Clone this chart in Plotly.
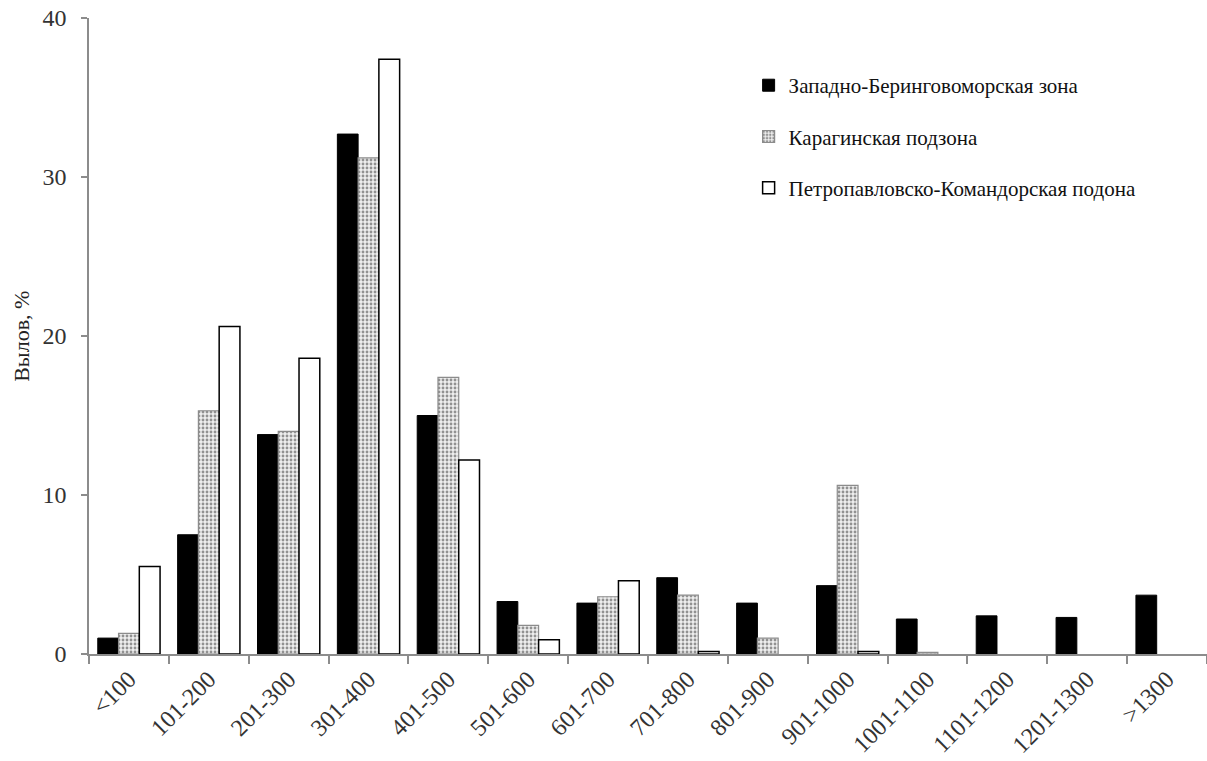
import plotly.graph_objects as go

categories = ["<100", "101-200", "201-300", "301-400", "401-500", "501-600", "601-700",
              "701-800", "801-900", "901-1000", "1001-1100", "1101-1200", "1201-1300", ">1300"]
west_bering = [1.0, 7.5, 13.8, 32.7, 15.0, 3.3, 3.2, 4.8, 3.2, 4.3, 2.2, 2.4, 2.3, 3.7]
karaginsk = [1.3, 15.3, 14.0, 31.2, 17.4, 1.8, 3.6, 3.7, 1.0, 10.6, 0.1, None, None, None]
petropavl = [5.5, 20.6, 18.6, 37.4, 12.2, 0.9, 4.6, 0.15, None, 0.15, None, None, None, None]
names = ["Западно-Беринговоморская зона", "Карагинская подзона", "Петропавловско-Командорская подона"]
y_ticks = [0, 10, 20, 30, 40]

FONT = "Liberation Serif, Times New Roman, serif"

fig = go.Figure()
fig.add_trace(go.Bar(x=categories, y=west_bering, name=names[0], legendgroup="a",
                     marker=dict(color="black", line=dict(color="black", width=1))))
fig.add_trace(go.Bar(x=categories, y=karaginsk, name=names[1], legendgroup="b",
                     marker=dict(color="#e6e6e6", line=dict(color="#8c8c8c", width=1.2),
                                 pattern=dict(shape=".", size=4, solidity=0.4,
                                              fgcolor="#333333", bgcolor="#eeeeee"))))
fig.add_trace(go.Bar(x=categories, y=petropavl, name=names[2], legendgroup="c",
                     marker=dict(color="white", line=dict(color="black", width=1.5))))

fig.update_layout(
    width=1207, height=761,
    margin=dict(l=89, r=0, t=18, b=107, autoexpand=False),
    paper_bgcolor="white", plot_bgcolor="white",
    barmode="group", bargap=0.22, bargroupgap=0,
    font=dict(family=FONT, size=20, color="#222"),
    legend=dict(x=0.59, y=0.926, xanchor="left", yanchor="top",
                font=dict(family=FONT, size=21, color="#111"),
                tracegroupgap=21, bgcolor="rgba(0,0,0,0)", itemwidth=30),
    showlegend=True,
    annotations=[dict(text="Вылов, %", textangle=-90, xref="paper", yref="paper",
                      x=-0.061, y=0.5, xanchor="center", yanchor="middle", showarrow=False,
                      font=dict(family=FONT, size=22, color="#222"))],
)
fig.update_xaxes(type="category", showline=True, linecolor="#8c8c8c", linewidth=1.5,
                 ticks="outside", tickson="boundaries", ticklen=8, tickcolor="#8c8c8c",
                 tickwidth=1.5, tickangle=-45, showgrid=False, automargin=False,
                 tickfont=dict(family=FONT, size=24, color="#333"))
fig.update_yaxes(range=[0, 40], tickvals=y_ticks, showline=True, linecolor="#8c8c8c",
                 linewidth=1.5, ticks="outside", ticklen=6, tickcolor="#8c8c8c",
                 tickwidth=1.5, showgrid=False, zeroline=False, ticklabelstandoff=10,
                 ticklabeloverflow="allow", automargin=False,
                 tickfont=dict(family=FONT, size=24, color="#333"))

fig.write_html("out.html", config={"displayModeBar": False},
               post_script="document.body.style.margin='0';")
